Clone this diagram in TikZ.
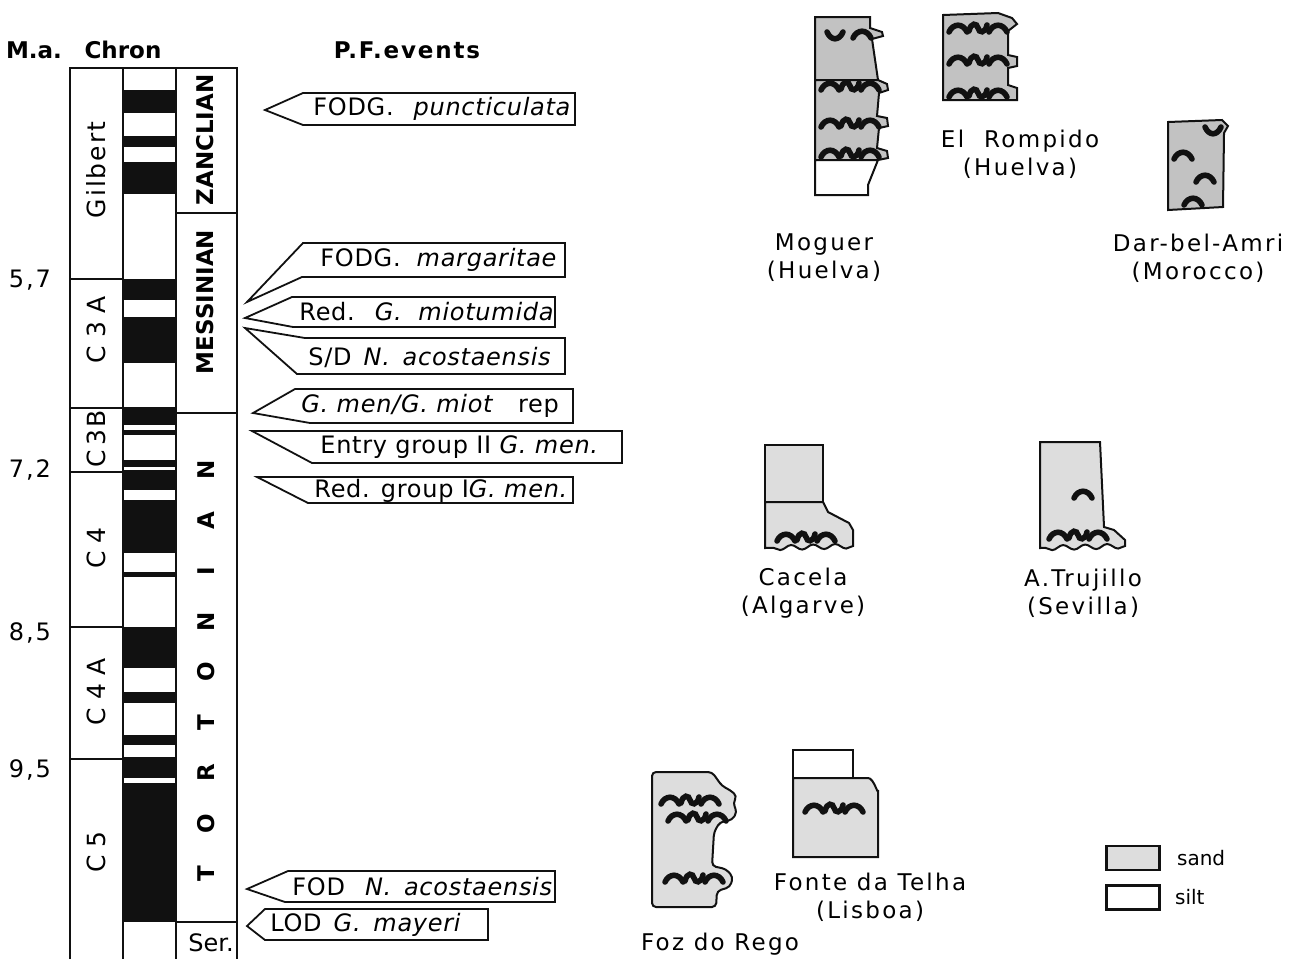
\documentclass[tikz,border=0pt]{standalone}
\usepackage{fontspec}
\setmainfont{DejaVu Sans}
\newfontfamily\spacedfont[LetterSpace=8]{DejaVu Sans}
\newfontfamily\tagfont[LetterSpace=3]{DejaVu Sans}
\newfontfamily\sitefont[LetterSpace=10]{DejaVu Sans}
\usepackage{tikz}
\usetikzlibrary{positioning,decorations.pathmorphing}
\definecolor{ink}{HTML}{111111}
\definecolor{sand}{HTML}{C2C2C2}
\definecolor{palesand}{HTML}{DDDDDD}

% burrow marks drawn inside the logs
\tikzset{
  burrowarch/.pic={\draw[burrow] (-9,4) .. controls (-5,-5) and (5,-5) .. (9,4);},
  burrowcup/.pic={\draw[burrow] (-8,-4) .. controls (-4,5) and (4,5) .. (8,-4);},
  burrowess/.pic={\draw[burrow] (-9,3) .. controls (-7,-6) and (-1,-5) .. (0,0) .. controls (1,5) and (7,6) .. (9,-3);},
  burrowrow/.pic={\pic at (-20,0) {burrowarch}; \pic at (0,0) {burrowess}; \pic at (20,0) {burrowarch};}
}

\begin{document}
\begin{tikzpicture}[x=0.5pt,y=-0.5pt,
  every node/.style={inner sep=0pt},
  frame/.style={draw=ink,line width=0.9pt},
  headlbl/.style={font=\bfseries\fontsize{11.5}{14}\selectfont},
  agelbl/.style={font=\spacedfont\fontsize{12}{14}\selectfont},
  chronlbl/.style={rotate=90,font=\spacedfont\fontsize{12.5}{14}\selectfont},
  stagelbl/.style={rotate=90,font=\bfseries\fontsize{11.5}{14}\selectfont},
  evtag/.style={draw=ink,line width=0.9pt,fill=white},
  evtext/.style={anchor=west,font=\tagfont\fontsize{12}{14}\selectfont},
  sandbed/.style={fill=sand,draw=ink,line width=1pt},
  palebed/.style={fill=palesand,draw=ink,line width=1pt},
  siltbed/.style={fill=white,draw=ink,line width=1pt},
  burrow/.style={draw=ink,line width=2.8pt,line cap=round},
  sitelbl/.style={align=center,font=\sitefont\fontsize{11.5}{14}\selectfont},
  keybox/.style={draw=ink,line width=1.2pt,minimum width=26.5pt,minimum height=12pt},
  keytext/.style={font=\fontsize{10}{12}\selectfont},
  wavy/.style={decoration={snake,amplitude=1.2pt,segment length=11pt}}
]
\useasboundingbox (0,0) rectangle (1304,959);

% headings
\node[headlbl] (ma) at (34,50) {M.a.};
\node[headlbl] (chron) at (123,50) {Chron};
\node[headlbl,font=\spacedfont\bfseries\fontsize{11.5}{14}\selectfont] (pfev) at (407,50) {P.F.events};

% ages
\node[agelbl] (a57) at (30,280) {5,7};
\node[agelbl] (a72) at (30,470) {7,2};
\node[agelbl] (a85) at (30,633) {8,5};
\node[agelbl] (a95) at (30,770) {9,5};

% polarity column
\foreach \ya/\yb in {90/113,136/147,162/194,279/300,317/363,407/425,430/435,460/467,470/490,500/553,572/577,627/668,692/703,735/745,757/778,783/922}
  \fill[ink] (123,\ya) rectangle (176,\yb);

% column frame
\draw[frame] (70,959) -- (70,68) -- (237,68) -- (237,959);
\draw[frame] (123,68) -- (123,959);
\draw[frame] (176,68) -- (176,959);
\foreach \y in {279,408,472,627,759}
  \draw[frame] (70,\y) -- (123,\y);
\foreach \y in {213,413,922}
  \draw[frame] (176,\y) -- (237,\y);

% chrons
\node[chronlbl] (gil) at (96,170) {Gilbert};
\node[chronlbl] (c3a) at (96,330) {C\,\,3\,\,A};
\node[chronlbl] (c3b) at (96,439) {C\,3B};
\node[chronlbl] (c4) at (96,548) {C\,\,4};
\node[chronlbl] (c4a) at (96,692) {C\,\,4\,\,A};
\node[chronlbl] (c5) at (96,852) {C\,\,5};

% stages
\node[stagelbl] (zan) at (205,140) {ZANCLIAN};
\node[stagelbl] (mes) at (205,302) {MESSINIAN};
\foreach \ch [count=\i] in {N,A,I,N,O,T,R,O,T}
  \node[stagelbl] (tor\i) at (206,{470+50.5*(\i-1)}) {\ch};
\node[font=\fontsize{12}{14}\selectfont] (ser) at (211,943) {Ser.};

% P.F. events
\draw[evtag] (265,110) -- (303,93) -- (575,93) -- (575,125) -- (303,125) -- cycle;
\node[evtext] (fodpunc) at (313,109) {FODG.\hspace{10pt}\textit{puncticulata}};
\draw[evtag] (247,302) -- (303,243) -- (565,243) -- (565,277) -- (302,277) -- cycle;
\node[evtext] (fodmarg) at (320,260) {FODG.\hspace{8pt}\textit{margaritae}};
\draw[evtag] (245,318) -- (292,297) -- (555,297) -- (555,327) -- (293,327) -- cycle;
\node[evtext] (redmio) at (299,312) {Red.\hspace{10pt}\textit{G.}\hspace{8pt}\textit{miotumida}};
\draw[evtag] (245,328) -- (305,338) -- (565,338) -- (565,374) -- (297,374) -- cycle;
\node[evtext] (sdaco) at (308,357) {S/D\hspace{6pt}\textit{N.}\hspace{6pt}\textit{acostaensis}};
\draw[evtag] (253,413) -- (295,389) -- (573,389) -- (573,423) -- (310,423) -- cycle;
\node[evtext] (menrep) at (301,406) {\textit{G. men/G. miot}\hspace{12pt}rep};
\draw[evtag] (252,431) -- (622,431) -- (622,463) -- (312,463) -- cycle;
\node[evtext] (entry) at (320,447) {Entry group II \textit{G. men.}};
\draw[evtag] (257,477) -- (573,477) -- (573,503) -- (308,503) -- cycle;
\node[evtext] (redgrp) at (314,491) {Red. group I\textit{G. men.}};
\draw[evtag] (247,889) -- (288,871) -- (555,871) -- (555,902) -- (285,902) -- cycle;
\node[evtext] (fodaco) at (292,887) {FOD\hspace{10pt}\textit{N.}\hspace{6pt}\textit{acostaensis}};
\draw[evtag] (247,926) -- (265,909) -- (488,909) -- (488,940) -- (265,940) -- cycle;
\node[evtext] (lodmay) at (270,925) {LOD\hspace{6pt}\textit{G.}\hspace{6pt}\textit{mayeri}};

% Moguer
\filldraw[sandbed] (815,17) -- (870,17) -- (870,28) -- (882,32) -- (883,36) -- (872,39) -- (878,80) -- (815,80) -- cycle;
\pic at (835,36) {burrowcup};
\pic at (862,34) {burrowarch};
\filldraw[sandbed] (815,80) -- (878,80) -- (887,84) -- (888,90) -- (879,93) -- (877,116) -- (887,118) -- (888,126) -- (879,128) -- (877,148) -- (887,151) -- (888,158) -- (878,160) -- (815,160) -- cycle;
\pic at (850,86) {burrowrow};
\pic at (850,123) {burrowrow};
\pic at (850,153) {burrowrow};
\filldraw[siltbed] (815,160) -- (878,160) -- (868,185) -- (868,195) -- (815,195) -- cycle;
\node[sitelbl] (mog) at (824,258) {Moguer\\(Huelva)};

% El Rompido
\filldraw[sandbed] (943,15) -- (998,13) -- (1012,18) -- (1017,24) -- (1008,31) -- (1008,55) -- (1017,57) -- (1017,66) -- (1008,68) -- (1008,85) -- (1017,88) -- (1017,100) -- (943,100) -- cycle;
\pic at (978,28) {burrowrow};
\pic at (978,60) {burrowrow};
\pic at (978,93) {burrowrow};
\node[sitelbl] (rom) at (1020,154) {El\hspace{10pt}Rompido\\(Huelva)};

% Dar-bel-Amri
\filldraw[sandbed] (1168,122) -- (1222,120) -- (1228,126) -- (1224,133) -- (1223,207) -- (1168,210) -- cycle;
\pic at (1213,131) {burrowcup};
\pic at (1183,155) {burrowarch};
\pic at (1205,178) {burrowarch};
\pic at (1193,201) {burrowarch};
\node[sitelbl] (dar) at (1198,258) {Dar-bel-Amri\\(Morocco)};

% Cacela
\filldraw[palebed] (765,445) rectangle (823,502);
\filldraw[palebed] (765,502) -- (823,502) -- (828,512) -- (849,523) -- (853,530) -- (853,546)
  decorate[wavy] {-- (765,548)} -- cycle;
\pic at (806,537) {burrowrow};
\node[sitelbl] (cac) at (803,593) {Cacela\\(Algarve)};

% A.Trujillo
\filldraw[palebed] (1040,442) -- (1100,442) -- (1104,527) -- (1114,530) -- (1125,540) -- (1125,546)
  decorate[wavy] {-- (1040,548)} -- cycle;
\pic at (1083,494) {burrowarch};
\pic at (1078,535) {burrowrow};
\node[sitelbl] (tru) at (1083,593) {A.Trujillo\\(Sevilla)};

% Foz do Rego
\filldraw[palebed,rounded corners=2pt] (652,772) -- (712,772) -- (722,786) -- (730,790) -- (737,796) -- (733,803) -- (737,812) -- (732,820) -- (720,822) -- (714,832) -- (712,866) -- (726,869) -- (733,877) -- (730,887) -- (717,891) -- (716,907) -- (652,907) -- cycle;
\pic at (690,800) {burrowrow};
\pic at (697,817) {burrowrow};
\pic at (694,878) {burrowrow};
\node[sitelbl] (foz) at (720,944) {Foz do Rego};

% Fonte da Telha
\filldraw[siltbed] (793,750) rectangle (853,778);
\filldraw[palebed] (793,778) -- (868,778) to[out=0,in=-90] (878,790) -- (878,857) -- (793,857) -- cycle;
\pic at (834,808) {burrowrow};
\node[sitelbl] (fon) at (870,897) {Fonte da Telha\\(Lisboa)};

% key
\node[keybox,fill=palesand] (sandkey) at (1133,858) {};
\node[keytext,right=8pt of sandkey] (sandtxt) {sand};
\node[keybox,fill=white,below=6.5pt of sandkey] (siltkey) {};
\node[keytext,right=7pt of siltkey] (silttxt) {silt};
\end{tikzpicture}
\end{document}
